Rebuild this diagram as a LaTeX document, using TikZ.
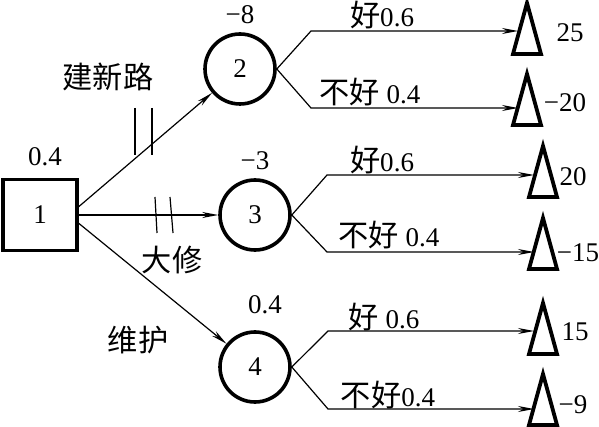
\documentclass[tikz,border=0pt]{standalone}
\usepackage{fontspec}
\setmainfont{Liberation Serif}
\newfontfamily\cjk[Scale=1.12]{Noto Sans CJK SC}
\usetikzlibrary{arrows.meta}

\begin{document}
\begin{tikzpicture}[x=0.5pt, y=-0.5pt, every node/.style={font=\fontsize{13.5}{15}\selectfont},
  decision/.style={draw, line width=1.6pt, minimum width=37pt, minimum height=35.5pt, inner sep=0pt},
  chance/.style={draw, circle, line width=1.8pt, minimum size=35pt, inner sep=0pt},
  leaf/.style={line width=1.9pt, line join=miter},
  branch/.style={line width=0.6pt, -{Stealth[length=8pt, width=3pt]}},
  tick/.style={line width=0.6pt}]
  \useasboundingbox (0,0) rectangle (599,427);

  % Decision node
  \node[decision] (b1) at (40,215) {1};
  \node (p1) at (45,157) {0.4};

  % Chance nodes
  \node[chance] (c2) at (240,69) {2};
  \node (v2) at (240,15) {−8};
  \node[chance] (c3) at (255,215) {3};
  \node (v3) at (255,161) {−3};
  \node[chance] (c4) at (255,367) {4};
  \node (v4) at (265,305) {0.4};

  % Options
  \draw[branch] (b1.12) -- (c2);
  \draw[branch] (b1.east) -- (c3.west);
  \draw[branch] (b1.-12) -- (c4);
  \node (l2) at (108,77) {\cjk 建新路};
  \node (l3) at (172,260) {\cjk 大修};
  \node (l4) at (138,340) {\cjk 维护};

  % Cut marks
  \draw[tick] (135,108) -- (135,155);
  \draw[tick] (152,108) -- (152,155);
  \draw[tick] (155,197) -- (157,233);
  \draw[tick] (170,197) -- (173,233);

  % Outcomes (apex of each triangle)
  \coordinate (t21) at (527,3);
  \coordinate (t22) at (527,74);
  \coordinate (t31) at (543,146);
  \coordinate (t32) at (543,218);
  \coordinate (t41) at (543,303);
  \coordinate (t42) at (543,374);
  \foreach \t in {t21,t22,t31,t32,t41,t42}
    \draw[leaf] (\t) -- ++(14,51) -- ++(-28,0) -- cycle;
  \node (r21) at (570,33) {25};
  \node (r22) at (565,103) {−20};
  \node (r31) at (573,177) {20};
  \node (r32) at (578,253) {−15};
  \node (r41) at (575,332) {15};
  \node (r42) at (573,405) {−9};

  % Chance branches
  \coordinate (k21) at (311,31);
  \coordinate (k22) at (311,108);
  \coordinate (k31) at (327,175);
  \coordinate (k32) at (327,252);
  \coordinate (k41) at (328,331);
  \coordinate (k42) at (328,409);
  \coordinate (e21) at (518,31);
  \coordinate (e22) at (518,108);
  \coordinate (e31) at (534,175);
  \coordinate (e32) at (534,252);
  \coordinate (e41) at (534,331);
  \coordinate (e42) at (534,409);
  \draw[branch] (c2.east) -- (k21) -- (e21);
  \draw[branch] (c2.east) -- (k22) -- (e22);
  \draw[branch] (c3.east) -- (k31) -- (e31);
  \draw[branch] (c3.east) -- (k32) -- (e32);
  \draw[branch] (c4.east) -- (k41) -- (e41);
  \draw[branch] (c4.east) -- (k42) -- (e42);
  \node (q21) at (382,15) {{\cjk 好}0.6};
  \node (q22) at (370,92) {{\cjk 不好} 0.4};
  \node (q31) at (382,160) {{\cjk 好}0.6};
  \node (q32) at (389,235) {{\cjk 不好} 0.4};
  \node (q41) at (384,317) {{\cjk 好} 0.6};
  \node (q42) at (388,395) {{\cjk 不好}0.4};
\end{tikzpicture}
\end{document}
